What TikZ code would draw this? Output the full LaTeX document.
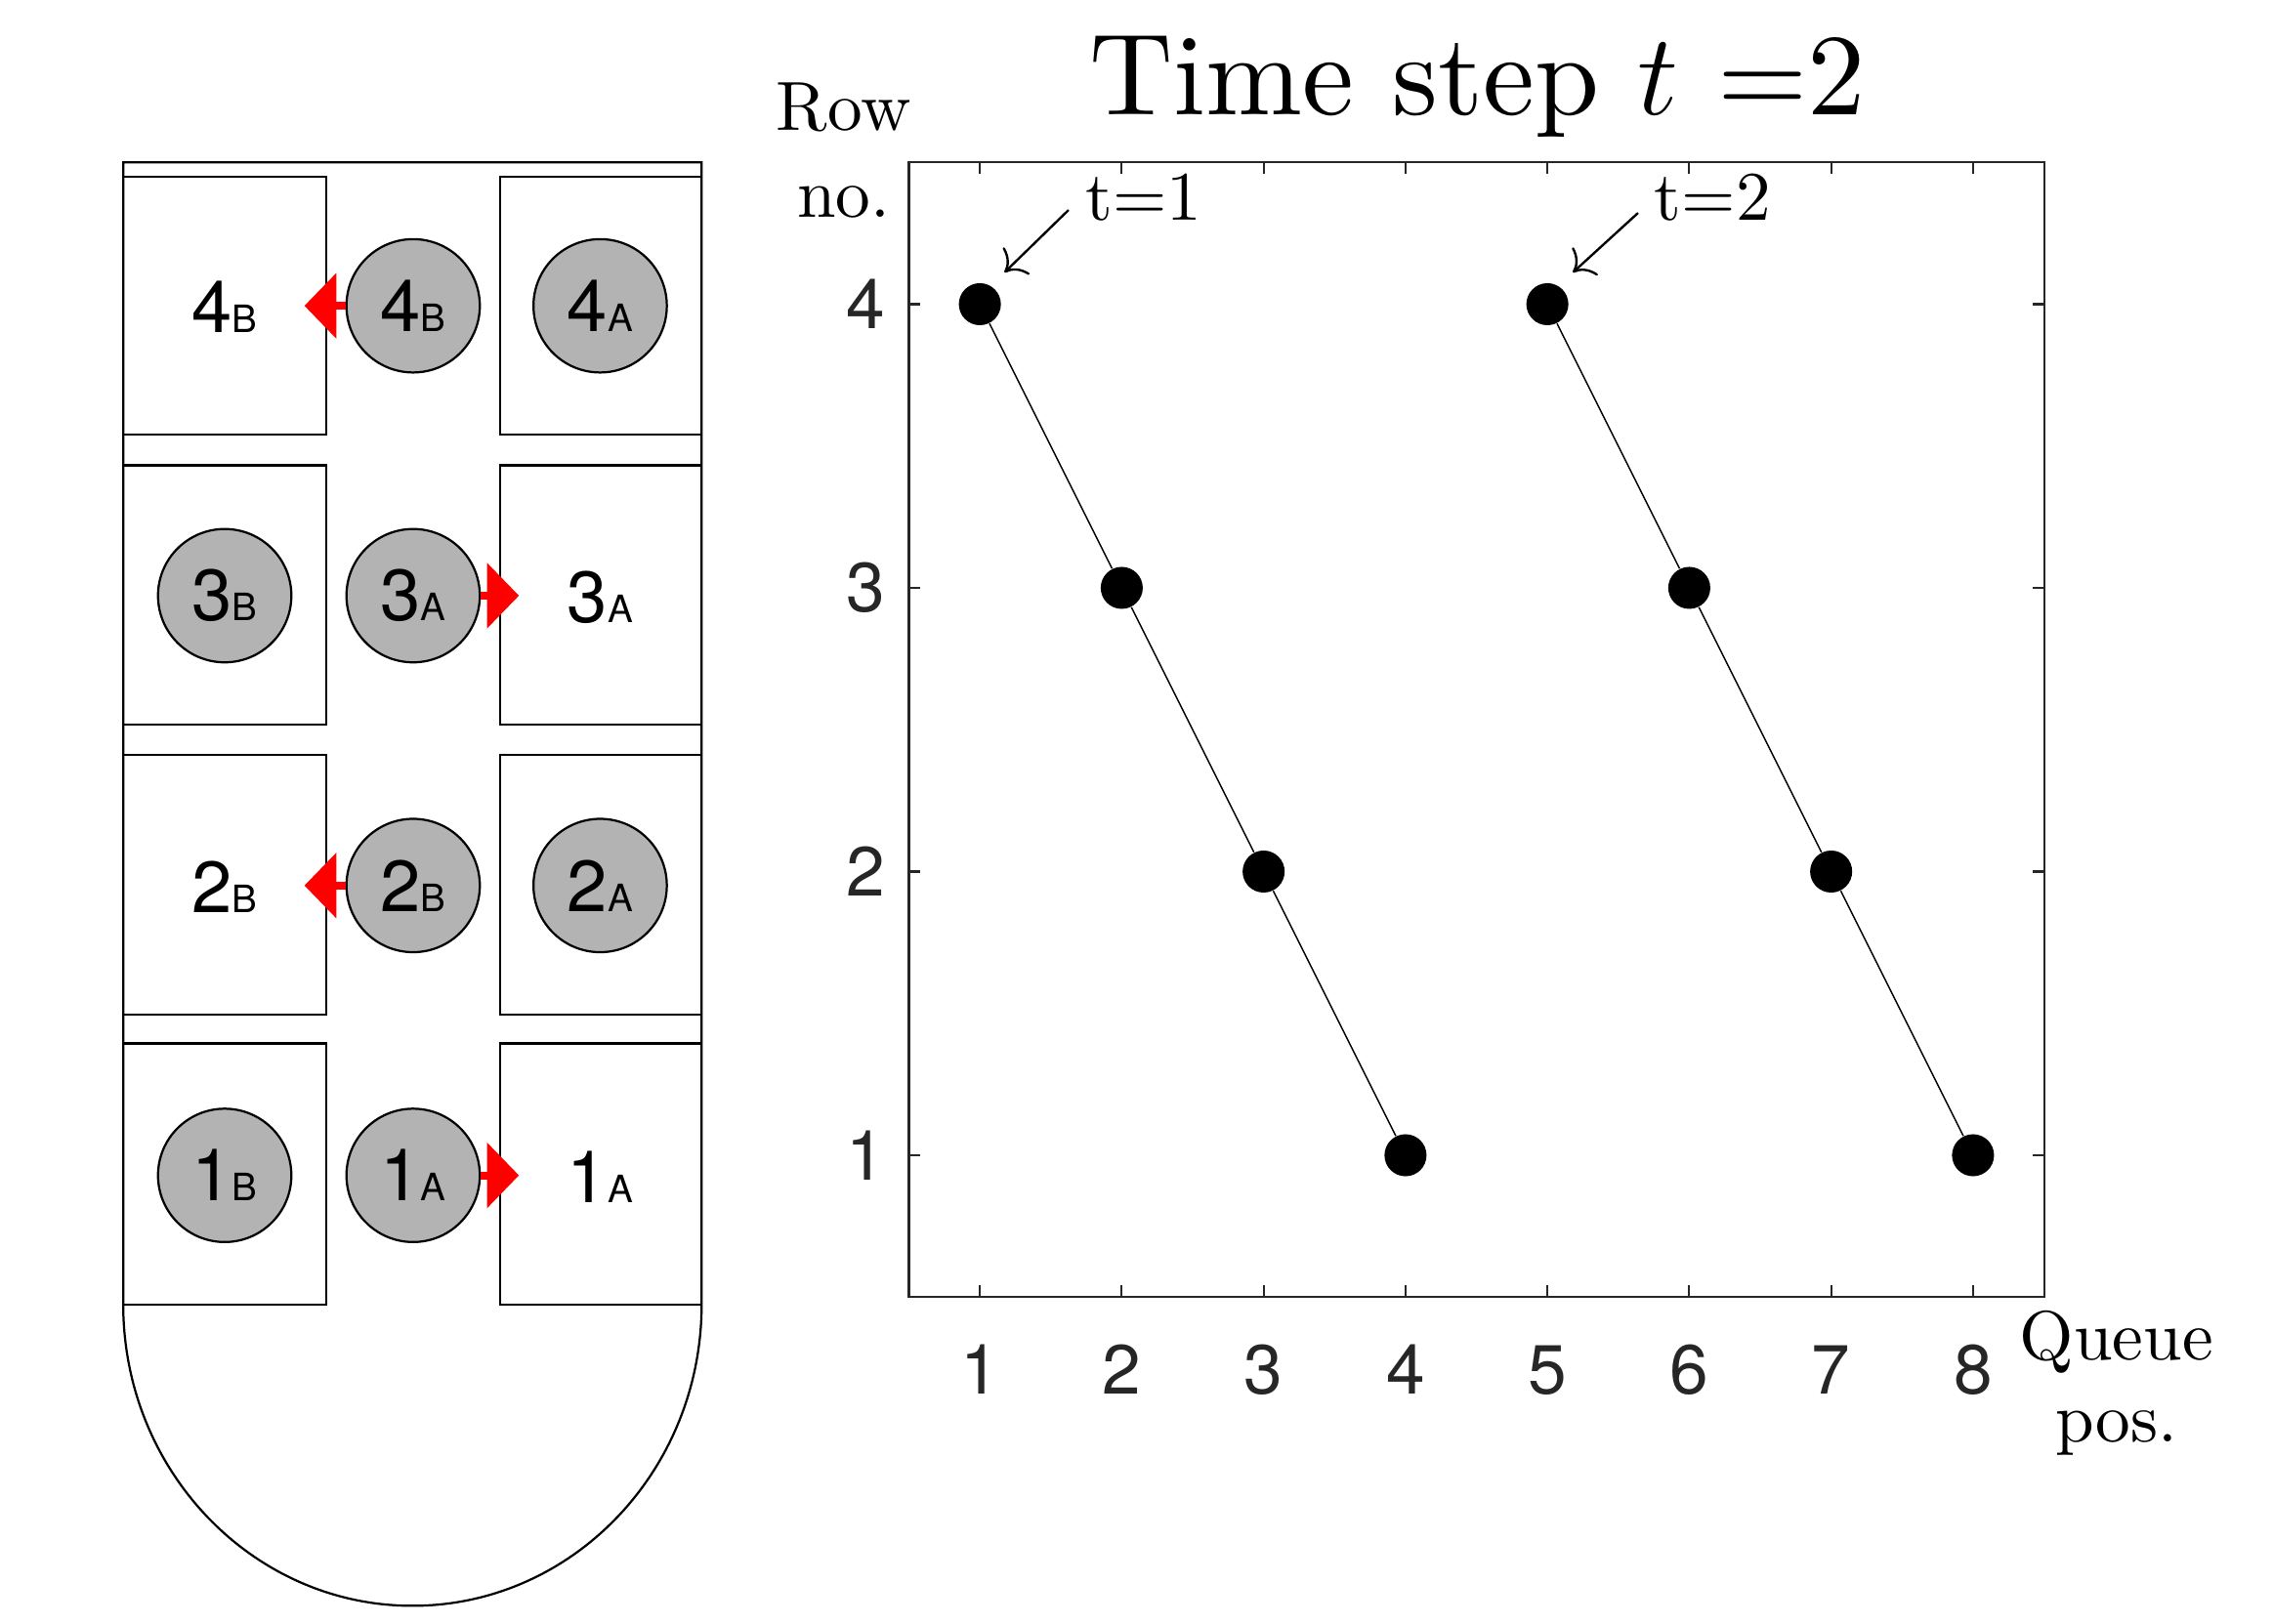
\RequirePackage{fix-cm}
\documentclass[tikz,border=0pt]{standalone}
\usepackage{fontspec}
\newfontfamily\helv{TeX Gyre Heros}
\newfontfamily\cmten{lmroman10-regular}[Extension=.otf]
\usetikzlibrary{arrows.meta}
\definecolor{axgray}{HTML}{262626}
\definecolor{paxgray}{HTML}{B3B3B3}
\newcommand{\seatlab}[2]{{\fontsize{25}{25}\selectfont #1}{\fontsize{13}{13}\selectfont #2}}
\tikzset{
 outline/.style={draw=black, line width=0.75pt},
 pax/.style={circle, draw=black, fill=paxgray, line width=0.75pt, minimum size=46pt, inner sep=0pt, font=\helv},
 seattext/.style={inner sep=0pt, font=\helv},
 move/.style={draw=red, line width=2.7pt, -{Triangle[length=11pt,width=22pt]}},
 axis/.style={draw=axgray, line width=0.7pt},
 ticklbl/.style={inner sep=0pt, text=axgray, font=\helv\fontsize{24}{24}\selectfont},
 dot/.style={circle, fill=black, minimum size=14.5pt, inner sep=0pt},
 serif/.style={inner sep=0pt, font=\cmten\fontsize{24}{28}\selectfont},
 note/.style={line width=0.8pt, -{Computer Modern Rightarrow[length=6pt,width=13pt]}},
 queue/.style={line width=0.5pt},
}
\begin{document}
\begin{tikzpicture}[x=0.5pt,y=-0.5pt]
\fill[white] (0,0) rectangle (1568,1120);
\useasboundingbox (0,0) rectangle (1568,1120);
% aircraft outline
\draw[outline] (85,900) -- (85,112) -- (484,112) -- (484,900)
  arc[start angle=0, end angle=-180, x radius=99.75pt, y radius=104pt];
\foreach \t/\b in {122/300, 321/500, 521/700, 720/900} {
  \draw[outline] (85,\t) -- (225,\t) -- (225,\b) -- (85,\b);
  \draw[outline] (484,\t) -- (345,\t) -- (345,\b) -- (484,\b);
}
% row 4
\node[seattext] (s4B) at (155,212) {\seatlab{4}{B}};
\node[pax] (p4B) at (285,211) {\seatlab{4}{B}};
\node[pax] (p4A) at (414,211) {\seatlab{4}{A}};
\coordinate (m4) at (210,211);
\draw[move] (p4B.west) -- (m4);
% row 3
\node[pax] (p3B) at (155,411) {\seatlab{3}{B}};
\node[pax] (p3A) at (285,411) {\seatlab{3}{A}};
\node[seattext] (s3A) at (414,412) {\seatlab{3}{A}};
\coordinate (m3) at (358,411);
\draw[move] (p3A.east) -- (m3);
% row 2
\node[seattext] (s2B) at (155,612) {\seatlab{2}{B}};
\node[pax] (p2B) at (285,611) {\seatlab{2}{B}};
\node[pax] (p2A) at (414,611) {\seatlab{2}{A}};
\coordinate (m2) at (210,611);
\draw[move] (p2B.west) -- (m2);
% row 1
\node[pax] (p1B) at (155,811) {\seatlab{1}{B}};
\node[pax] (p1A) at (285,811) {\seatlab{1}{A}};
\node[seattext] (s1A) at (414,812) {\seatlab{1}{A}};
\coordinate (m1) at (358,811);
\draw[move] (p1A.east) -- (m1);

% plot
\begin{scope}[x=48.9375pt, y=97.875pt, shift={(289.03pt,-496.4375pt)}]
\draw[axis] (0.5,0.5) rectangle (8.5,4.5);
\foreach \i in {1,...,8} {
  \draw[axis] (\i,0.5) -- ++(0,4pt);
  \draw[axis] (\i,4.5) -- ++(0,-4pt);
  \node[ticklbl, anchor=base] (xl\i) at (\i,0.158) {\i};
}
\foreach \j in {1,...,4} {
  \draw[axis] (0.5,\j) -- ++(4pt,0);
  \draw[axis] (8.5,\j) -- ++(-4pt,0);
  \node[ticklbl] (yl\j) at (0.1935,\j) {\j};
}
\foreach \n/\xx/\yy in {a1/1/4, a2/2/3, a3/3/2, a4/4/1, b1/5/4, b2/6/3, b3/7/2, b4/8/1}
  \node[dot] (\n) at (\xx,\yy) {};
\draw[queue] (a1) -- (a2) -- (a3) -- (a4);
\draw[queue] (b1) -- (b2) -- (b3) -- (b4);
\node[serif, anchor=base] (t1) at (2.155,4.2957) {t=1};
\coordinate (t1s) at (1.625,4.3318);
\coordinate (t1e) at (1.174,4.112);
\draw[note] (t1s) -- (t1e);
\node[serif, anchor=base] (t2) at (6.165,4.2957) {t=2};
\coordinate (t2s) at (5.639,4.3216);
\coordinate (t2e) at (5.18,4.112);
\draw[note] (t2s) -- (t2e);
\end{scope}

\node[anchor=base, inner sep=0pt, font=\cmten\fontsize{40}{48}\selectfont] (title) at (1019.5,79) {Time step $t$ =2};
\node[serif, anchor=base] (ylab1) at (582,90) {Row};
\node[serif, anchor=base] (ylab2) at (582,150) {no.};
\node[serif, anchor=base] (xlab1) at (1460,938) {Queue};
\node[serif, anchor=base] (xlab2) at (1460,995) {pos.};
\end{tikzpicture}
\end{document}
